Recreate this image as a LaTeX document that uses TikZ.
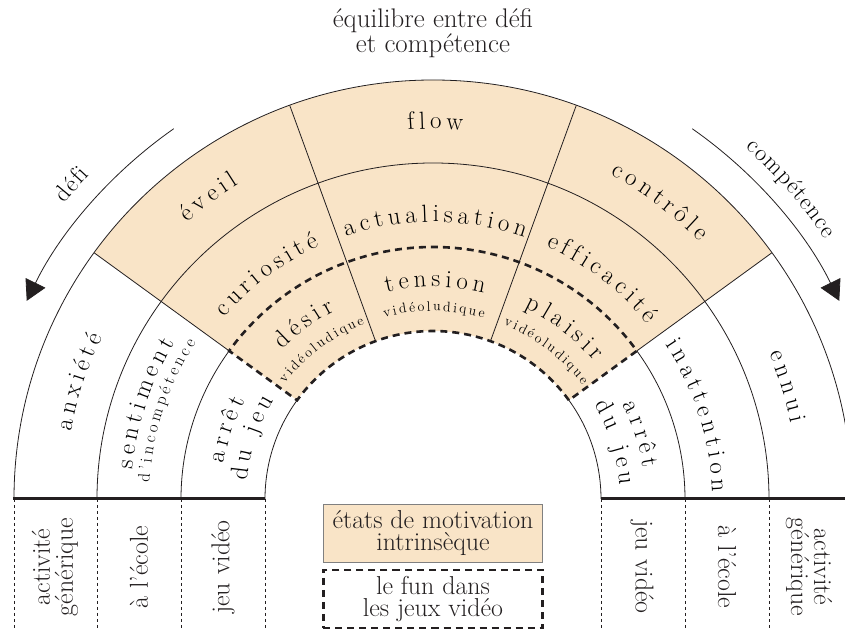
\documentclass[tikz,border=0pt]{standalone}
\usepackage{fontspec}
\usetikzlibrary{arrows.meta,decorations.text}
\definecolor{peach}{HTML}{F9E4C7}
\definecolor{ink}{HTML}{231F20}
\newcommand\bigarc{\fontsize{25}{25}\selectfont\kern4.6bp}
\newcommand\smallarc{\fontsize{14}{14}\selectfont\kern2.3bp}
\newcommand\midarc{\fontsize{17}{17}\selectfont\kern3.5bp}
\newcommand\sidearc{\fontsize{24}{24}\selectfont\kern1.2bp}

\begin{document}
\begin{tikzpicture}[x=1bp, y=1bp, line width=0.8bp, color=ink,
  funline/.style={line width=2.6bp, dash pattern=on 7bp off 5bp},
  colline/.style={line width=0.6bp, dash pattern=on 3bp off 3bp},
  note/.style={font=\fontsize{26}{23}\selectfont, align=center},
  keybox/.style={note, inner xsep=1bp, minimum width=219bp, minimum height=58bp}]
\useasboundingbox (-433,-132) rectangle (412,499);

% coloured sector
\fill[peach] (36:168) arc[start angle=36, end angle=144, radius=168]
  -- (144:419) arc[start angle=144, end angle=36, radius=419] -- cycle;

% rings and spokes
\foreach \r in {336,419}
  \draw (180:\r) arc[start angle=180, end angle=0, radius=\r];
\foreach \r in {168,252} {
  \draw (180:\r) arc[start angle=180, end angle=144, radius=\r];
  \draw (36:\r) arc[start angle=36, end angle=0, radius=\r];
}
\foreach \a in {36,144} \draw (\a:252) -- (\a:419);
\foreach \a in {70,110} \draw (\a:168) -- (\a:419);
\draw[funline] (36:168) arc[start angle=36, end angle=144, radius=168]
  -- (144:252) arc[start angle=144, end angle=36, radius=252] -- cycle;

% ground line and columns
\draw[line width=3bp] (-420,0) -- (-168,0);
\draw[line width=3bp] (168,0) -- (440,0);
\foreach \x in {-419,-336,-252,-168,168,252,336}
  \draw[colline] (\x,0) -- (\x,-132);

% defi / competence arrows
\draw[-{Triangle[length=20bp, width=22bp]}] (125:452) arc[start angle=125, end angle=154, radius=452];
\draw[-{Triangle[length=20bp, width=22bp]}] (55:452) arc[start angle=55, end angle=26, radius=452];

% labels along the rings
\foreach \r/\c/\t in {370/127/éveil, 370/90/flow, 370/53/contrôle,
    277/127/curiosité, 277/90/actualisation, 277/53/efficacité,
    212/127/désir, 212/90/tension, 212/53/plaisir,
    368/162/anxiété, 302/162/sentiment, 212/162/arrêt, 187/162/du jeu,
    366/18/ennui, 279/18/inattention, 212/18/arrêt, 187/18/du jeu}
  \path[decorate, decoration={text along path, text align=center,
      text/.expanded={|\noexpand\bigarc|\t}}]
    ({\c+30}:\r) arc[start angle=\c+30, end angle=\c-30, radius=\r];
\foreach \r/\c/\t in {188/127/vidéoludique, 188/90/vidéoludique, 188/53/vidéoludique}
  \path[decorate, decoration={text along path, text align=center,
      text/.expanded={|\noexpand\smallarc|\t}}]
    ({\c+30}:\r) arc[start angle=\c+30, end angle=\c-30, radius=\r];
\path[decorate, decoration={text along path, text align=center,
    text={|\midarc|d'incompétence}}]
  (192:284) arc[start angle=192, end angle=132, radius=284];
\foreach \r/\c/\t in {472/139/défi, 470/41/compétence}
  \path[decorate, decoration={text along path, text align=center,
      text/.expanded={|\noexpand\sidearc|\t}}]
    ({\c+30}:\r) arc[start angle=\c+30, end angle=\c-30, radius=\r];

% title, legend and columns
\node[note, font=\fontsize{27}{23}\selectfont] (title) at (0,466) {équilibre entre défi\\et compétence};
\node[keybox, fill=peach, draw=gray] (intrinsic) at (0,-34) {états de motivation\\intrinsèque};
\node[keybox, draw, funline] (funbox) at (0,-100) {le fun dans\\les jeux vidéo};
\foreach \x/\t [count=\i] in {-378/{activité\\générique}, -294/{à l'école}, -210/{jeu vidéo}}
  \node[note, rotate=90] (left\i) at (\x,-68) {\t};
\foreach \x/\t [count=\i] in {209/{jeu vidéo}, 294/{à l'école}, 376/{activité\\générique}}
  \node[note, rotate=-90] (right\i) at (\x,-68) {\t};
\end{tikzpicture}
\end{document}
